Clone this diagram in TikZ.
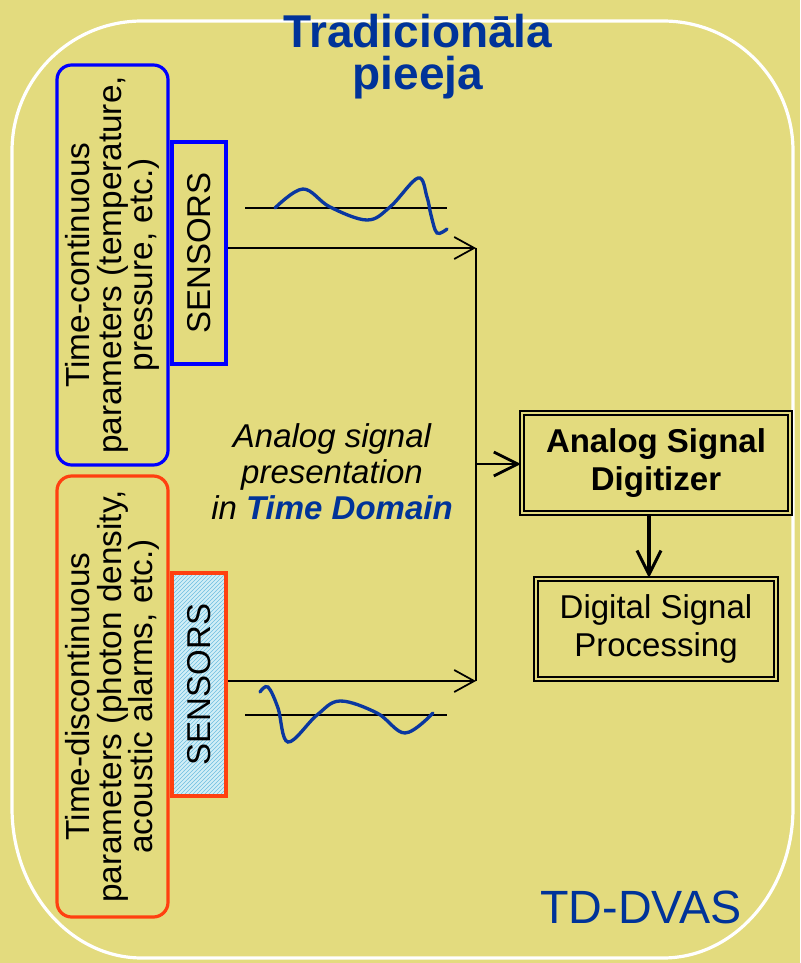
\documentclass[tikz,border=0pt]{standalone}
\usepackage{fontspec}
\setmainfont{Liberation Sans}
\usetikzlibrary{arrows.meta,patterns}
\definecolor{bgc}{RGB}{227,219,126}
\definecolor{tblue}{RGB}{0,51,153}
\definecolor{wblue}{RGB}{10,55,160}
\definecolor{bbox}{RGB}{0,0,255}
\definecolor{rbox}{RGB}{255,64,16}
\definecolor{hatchbg}{RGB}{210,238,246}
\definecolor{hatchln}{RGB}{110,190,225}
\begin{document}
\begin{tikzpicture}[x=0.75pt,y=-0.75pt,
  parambox/.style={draw, line width=2.4pt, rounded corners=11pt, rotate=90,
    minimum height=83.25pt, inner sep=0pt, align=center,
    font=\fontsize{25}{23.6}\selectfont},
  sensbox/.style={draw, line width=2.5pt, minimum width=40.5pt, minimum height=166.5pt,
    inner sep=0pt, font=\fontsize{24.75}{28}\selectfont},
  dblbox/.style={draw, double=bgc, double distance=1.5pt, line width=1.6pt,
    inner sep=0pt, align=center, font=\fontsize{24.75}{28.5}\selectfont},
  sig/.style={line width=1.3pt, -{Straight Barb[length=15pt,width=16.5pt]}},
  sigthick/.style={line width=2.1pt, -{Straight Barb[length=18pt,width=18pt]}},
  wave/.style={wblue, line width=2.5pt, line cap=round},
  axisline/.style={line width=1.25pt}
]
\useasboundingbox (0,0) rectangle (800,963);
\fill[bgc] (0,0) rectangle (800,963);

% white frame
\draw[white, line width=2.4pt]
  (142,21) -- (663,21)
  .. controls (734.8,21) and (793,79.2) .. (793,151)
  -- (793,808)
  .. controls (793,890.8) and (734.8,958) .. (663,958)
  -- (142,958)
  .. controls (70.2,958) and (12,890.8) .. (12,808)
  -- (12,151)
  .. controls (12,79.2) and (70.2,21) .. cycle;

% title
\node[tblue, align=center, inner sep=0pt,
      font=\fontsize{34.5}{31.5}\selectfont\bfseries] (title) at (418,57)
  {Tradicionāla\\pieeja};

% parameter boxes
\node[parambox, draw=bbox, minimum width=300pt] (p1) at (112.5,265)
  {Time-continuous\\parameters (temperature,\\pressure, etc.)};
\node[parambox, draw=rbox, minimum width=330.75pt] (p2) at (112.5,696.5)
  {Time-discontinuous\\parameters (photon density,\\acoustic alarms, etc.)};

% sensors
\node[sensbox, draw=bbox] (s1) at (199,253) {\rotatebox{90}{SENSORS}};
\node[sensbox, draw=rbox, minimum height=167.25pt,
      preaction={fill=hatchbg}, pattern=north east lines, pattern color=hatchln]
  (s2) at (199,684.5) {\rotatebox{90}{SENSORS}};

% junction coordinates
\coordinate (j1) at (476,248);
\coordinate (j2) at (476,681);
\coordinate (jm) at (476,464);
\coordinate (ax) at (649,0);

% boxes on the right
\node[dblbox, minimum width=201pt, minimum height=75pt, font=\fontsize{24.75}{28.5}\selectfont\bfseries]
  (dig) at (656,463) {Analog Signal\\Digitizer};
\node[dblbox, minimum width=180pt, minimum height=75pt] (dsp) at (656,629)
  {Digital Signal\\Processing};

% connectors
\draw[sig] (s1.east |- j1) -- (j1);
\draw[sig] (s2.east |- j2) -- (j2);
\draw[line width=1.3pt] (j1) -- (j2);
\draw[sigthick] (jm) -- (jm -| dig.west);
\draw[sigthick, line width=2.3pt] (dig.south -| ax) -- (dsp.north -| ax);

% middle text
\node[align=center, inner sep=0pt, font=\fontsize{24.75}{27}\selectfont\itshape]
  (mid) at (332,472)
  {Analog signal\\presentation\\in \textcolor{tblue}{\bfseries Time Domain}};

% TD-DVAS
\node[tblue, inner sep=0pt, font=\fontsize{35}{40}\selectfont] (td) at (641,907) {TD-DVAS};

% signal sketches
\draw[axisline] (245,208) -- (447,208);
\draw[wave] plot[smooth, tension=0.6] coordinates
  {(275,208) (303,189) (330,207) (367,220) (390,207) (418,178) (427,197)
   (431,215) (437,233) (447,229)};
\draw[axisline] (245,715) -- (447,715);
\draw[wave] plot[smooth, tension=0.6] coordinates
  {(260,692) (268,687) (278,708) (288,742) (317,715) (340,701) (377,713)
   (405,733) (433,713)};
\end{tikzpicture}
\end{document}
